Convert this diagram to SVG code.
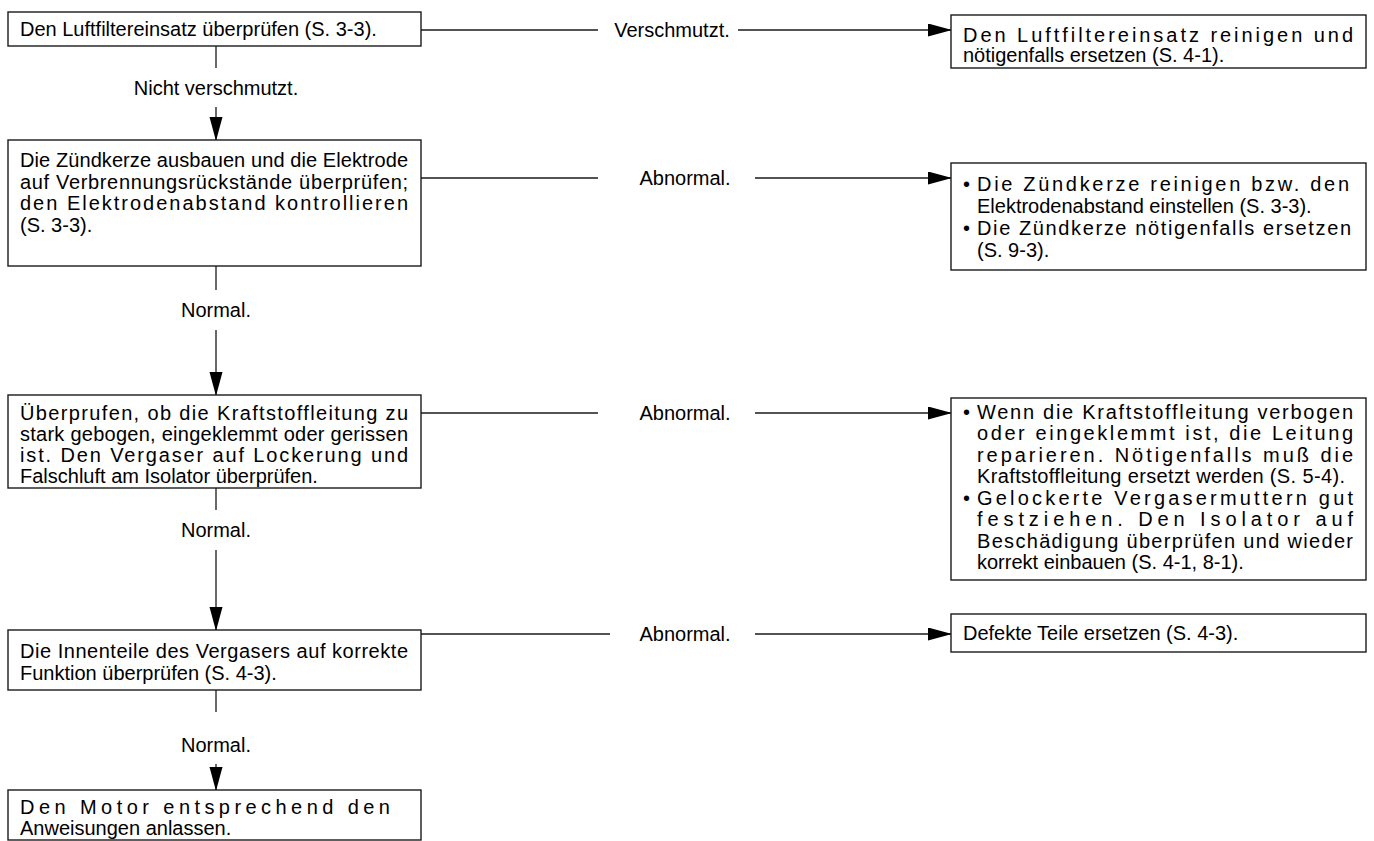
<svg xmlns="http://www.w3.org/2000/svg" width="1374" height="841" viewBox="0 0 1374 841">
<style>
.box{fill:#fff;stroke:#1a1a1a;stroke-width:1.4}
.t{font-family:"Liberation Sans",Arial,sans-serif;font-size:20px;fill:#000}
.lbl{font-family:"Liberation Sans",Arial,sans-serif;font-size:20px;fill:#000;text-anchor:middle}
.ln{stroke:#1a1a1a;stroke-width:1.3;fill:none}
</style>
<defs>
<marker id="ah" markerUnits="userSpaceOnUse" markerWidth="24" markerHeight="14" refX="23" refY="6.5" orient="auto">
<path d="M0,0 L24,6.5 L0,13 z" fill="#000"/>
</marker>
</defs>
<rect width="1374" height="841" fill="#fff"/>
<g id="connectors">
<line class="ln" x1="216" y1="46" x2="216" y2="68"/>
<text class="lbl" x="216" y="95">Nicht verschmutzt.</text>
<line class="ln" x1="216" y1="107" x2="216" y2="140" marker-end="url(#ah)"/>
<line class="ln" x1="216" y1="266" x2="216" y2="290"/>
<text class="lbl" x="216" y="317">Normal.</text>
<line class="ln" x1="216" y1="330" x2="216" y2="395" marker-end="url(#ah)"/>
<line class="ln" x1="216" y1="488" x2="216" y2="510"/>
<text class="lbl" x="216" y="537">Normal.</text>
<line class="ln" x1="216" y1="550" x2="216" y2="630" marker-end="url(#ah)"/>
<line class="ln" x1="216" y1="690" x2="216" y2="712"/>
<text class="lbl" x="216" y="752">Normal.</text>
<line class="ln" x1="216" y1="764" x2="216" y2="790" marker-end="url(#ah)"/>
<line class="ln" x1="421" y1="30" x2="598" y2="30"/>
<text class="lbl" x="672" y="37">Verschmutzt.</text>
<line class="ln" x1="738" y1="30" x2="951" y2="30" marker-end="url(#ah)"/>
<line class="ln" x1="421" y1="178" x2="598" y2="178"/>
<text class="lbl" x="685" y="185">Abnormal.</text>
<line class="ln" x1="755" y1="178" x2="951" y2="178" marker-end="url(#ah)"/>
<line class="ln" x1="421" y1="413" x2="598" y2="413"/>
<text class="lbl" x="685" y="420">Abnormal.</text>
<line class="ln" x1="755" y1="413" x2="951" y2="413" marker-end="url(#ah)"/>
<line class="ln" x1="421" y1="634" x2="610" y2="634"/>
<text class="lbl" x="685" y="641">Abnormal.</text>
<line class="ln" x1="755" y1="634" x2="951" y2="634" marker-end="url(#ah)"/>
</g>
<g id="n1">
<rect class="box" x="8" y="12" width="413" height="34"/>
<text class="t" x="20" y="36">Den Luftfiltereinsatz überprüfen (S. 3-3).</text>
</g>
<g id="n2">
<rect class="box" x="8" y="140" width="413" height="126"/>
<text class="t" x="20" y="167" textLength="388" lengthAdjust="spacing">Die Zündkerze ausbauen und die Elektrode</text>
<text class="t" x="20" y="189" textLength="388" lengthAdjust="spacing">auf Verbrennungsrückstände überprüfen;</text>
<text class="t" x="20" y="210" textLength="388" lengthAdjust="spacing">den Elektrodenabstand kontrollieren</text>
<text class="t" x="20" y="232">(S. 3-3).</text>
</g>
<g id="n3">
<rect class="box" x="8" y="395" width="413" height="93"/>
<text class="t" x="20" y="420" textLength="388" lengthAdjust="spacing">Überprufen, ob die Kraftstoffleitung zu</text>
<text class="t" x="20" y="441" textLength="388" lengthAdjust="spacing">stark gebogen, eingeklemmt oder gerissen</text>
<text class="t" x="20" y="462" textLength="388" lengthAdjust="spacing">ist. Den Vergaser auf Lockerung und</text>
<text class="t" x="20" y="483">Falschluft am Isolator überprüfen.</text>
</g>
<g id="n4">
<rect class="box" x="8" y="630" width="413" height="60"/>
<text class="t" x="20" y="658" textLength="388" lengthAdjust="spacing">Die Innenteile des Vergasers auf korrekte</text>
<text class="t" x="20" y="680">Funktion überprüfen (S. 4-3).</text>
</g>
<g id="n5">
<rect class="box" x="8" y="790" width="413" height="50"/>
<text class="t" x="20" y="814" textLength="370" lengthAdjust="spacing">Den Motor entsprechend den</text>
<text class="t" x="20" y="835">Anweisungen anlassen.</text>
</g>
<g id="r1">
<rect class="box" x="951" y="15" width="415" height="53"/>
<text class="t" x="963" y="42" textLength="390" lengthAdjust="spacing">Den Luftfiltereinsatz reinigen und</text>
<text class="t" x="963" y="62">nötigenfalls ersetzen (S. 4-1).</text>
</g>
<g id="r2">
<rect class="box" x="951" y="163" width="415" height="107"/>
<text class="t" x="963" y="191">•</text>
<text class="t" x="977" y="191" textLength="372" lengthAdjust="spacing">Die Zündkerze reinigen bzw. den</text>
<text class="t" x="977" y="213">Elektrodenabstand einstellen (S. 3-3).</text>
<text class="t" x="963" y="235">•</text>
<text class="t" x="977" y="235" textLength="374" lengthAdjust="spacing">Die Zündkerze nötigenfalls ersetzen</text>
<text class="t" x="977" y="257">(S. 9-3).</text>
</g>
<g id="r3">
<rect class="box" x="951" y="398" width="415" height="182"/>
<text class="t" x="963" y="419">•</text>
<text class="t" x="977" y="419" textLength="376" lengthAdjust="spacing">Wenn die Kraftstoffleitung verbogen</text>
<text class="t" x="977" y="440" textLength="376" lengthAdjust="spacing">oder eingeklemmt ist, die Leitung</text>
<text class="t" x="977" y="462" textLength="376" lengthAdjust="spacing">reparieren. Nötigenfalls muß die</text>
<text class="t" x="977" y="483" textLength="368" lengthAdjust="spacing">Kraftstoffleitung ersetzt werden (S. 5-4).</text>
<text class="t" x="963" y="505">•</text>
<text class="t" x="977" y="505" textLength="376" lengthAdjust="spacing">Gelockerte Vergasermuttern gut</text>
<text class="t" x="977" y="526" textLength="376" lengthAdjust="spacing">festziehen. Den Isolator auf</text>
<text class="t" x="977" y="548" textLength="376" lengthAdjust="spacing">Beschädigung überprüfen und wieder</text>
<text class="t" x="977" y="569">korrekt einbauen (S. 4-1, 8-1).</text>
</g>
<g id="r4">
<rect class="box" x="951" y="614" width="415" height="38"/>
<text class="t" x="963" y="640">Defekte Teile ersetzen (S. 4-3).</text>
</g>
</svg>
